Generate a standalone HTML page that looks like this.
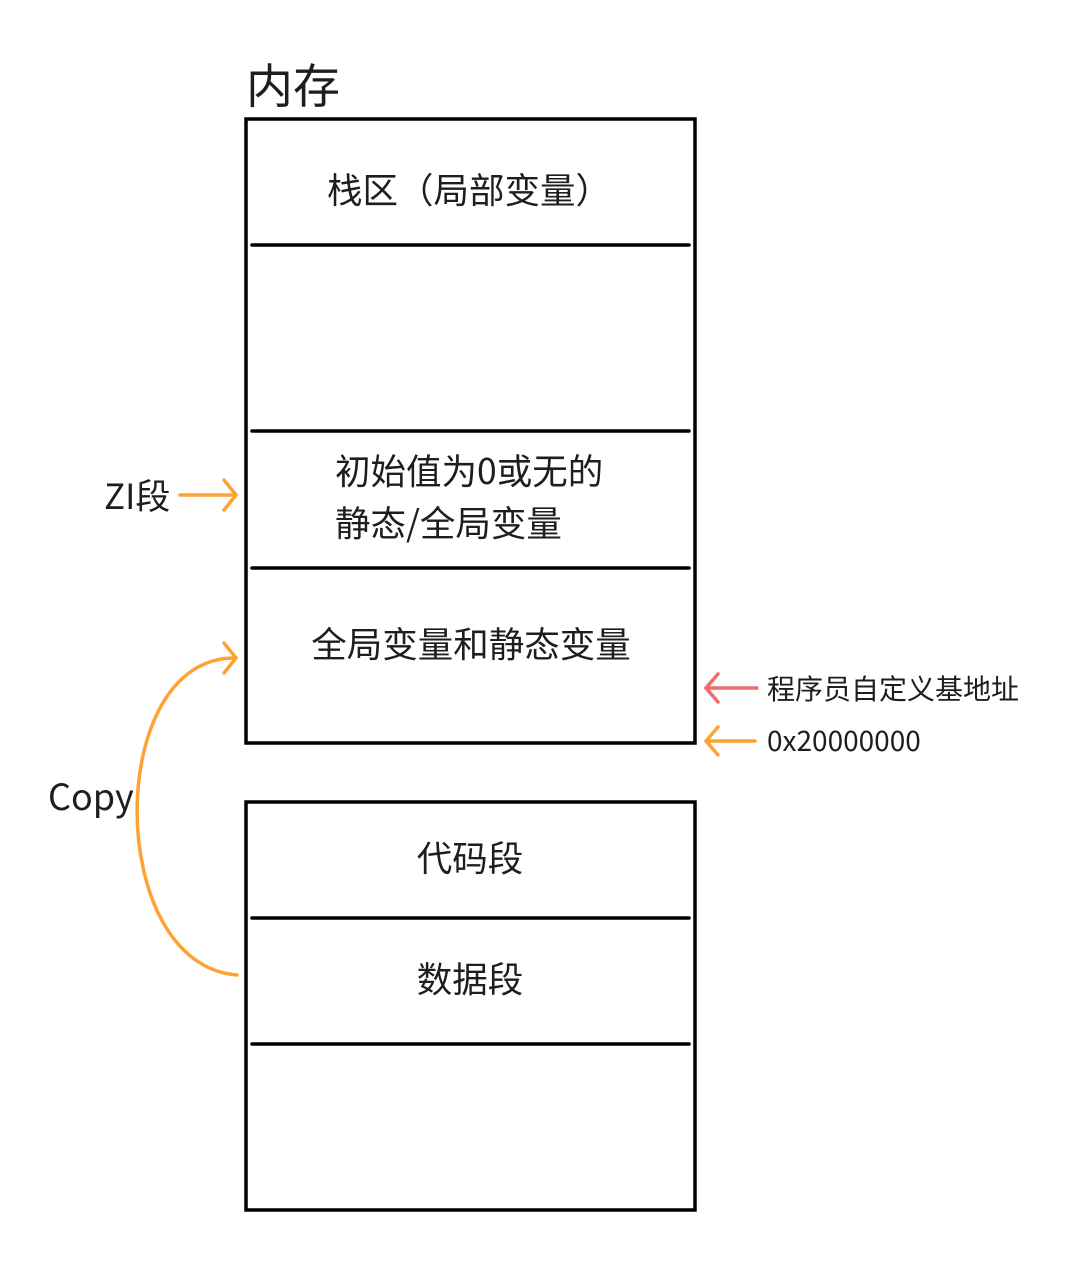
<!DOCTYPE html>
<html><head><meta charset="utf-8"><style>
html,body{margin:0;padding:0;background:#fff;}
svg text{font-family:"Noto Sans CJK SC","Liberation Sans",sans-serif;fill:#1e1e1e;}
</style></head><body>
<svg width="1068" height="1262" viewBox="0 0 1068 1262" xmlns="http://www.w3.org/2000/svg">
<g stroke="#000" stroke-width="3.5" fill="none" stroke-linecap="round">
<rect x="246" y="119" width="449" height="624"/>
<line x1="252" y1="245" x2="689" y2="245"/>
<line x1="252" y1="431" x2="689" y2="431"/>
<line x1="252" y1="568" x2="689" y2="568"/>
<rect x="246" y="802" width="449" height="408"/>
<line x1="252" y1="918" x2="689" y2="918"/>
<line x1="252" y1="1044" x2="689" y2="1044"/>
</g>
<text x="246" y="103" font-size="47">内存</text>
<text x="469" y="203" font-size="35.5" text-anchor="middle">栈区（局部变量）</text>
<text x="335" y="484" font-size="35.5">初始值为0或无的</text>
<text x="335" y="536" font-size="35.5">静态/全局变量</text>
<text x="471" y="657" font-size="35.5" text-anchor="middle">全局变量和静态变量</text>
<text x="470" y="871" font-size="35.5" text-anchor="middle">代码段</text>
<text x="470" y="992" font-size="35.5" text-anchor="middle">数据段</text>
<text x="104" y="509" font-size="35">ZI段</text>
<text x="48" y="810" font-size="36">Copy</text>
<text x="767" y="699" font-size="28">程序员自定义基地址</text>
<text x="767" y="751" font-size="28">0x20000000</text>
<g stroke="#ffa234" stroke-width="3.5" fill="none" stroke-linecap="round" stroke-linejoin="round">
<line x1="180" y1="495" x2="236" y2="495"/>
<polyline points="224,480 236,495 224,510"/>
<path d="M237,975 C104,965 104,655 236,658"/>
<polyline points="224,643 236,658 224,673"/>
<line x1="755" y1="741" x2="706" y2="741"/>
<polyline points="718,727 706,741 718,755"/>
</g>
<g stroke="#f26b6b" stroke-width="3.5" fill="none" stroke-linecap="round" stroke-linejoin="round">
<line x1="757" y1="688" x2="706" y2="688"/>
<polyline points="718,674 706,688 718,702"/>
</g>
</svg>
</body></html>
